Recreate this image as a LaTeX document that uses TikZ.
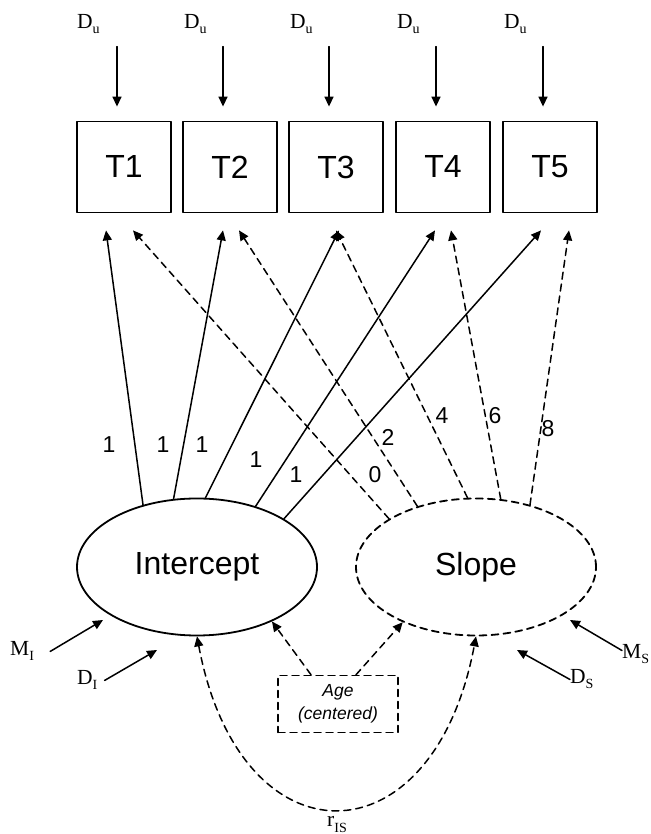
\documentclass[tikz,border=0pt]{standalone}
\usepackage{fontspec}
\setmainfont{Liberation Serif}
\setsansfont{Liberation Sans}
\usepackage{tikz}
\usetikzlibrary{arrows.meta}
\usetikzlibrary{shapes.geometric}

\newcommand{\sublab}[2]{#1\raisebox{-5pt}{\fontsize{14}{14}\selectfont #2}}

\begin{document}
\begin{tikzpicture}[line cap=round,line join=round,>={Triangle[length=10pt,width=9pt]},x=1pt,y=1pt]
\useasboundingbox (0,0) rectangle (650,834);
\tikzstyle{mydashed}=[dash pattern=on 7pt off 5pt]
\tikzstyle{arr}=[line width=1.5pt]
\tikzstyle{tbox}=[draw, line width=1.8pt, minimum width=94pt, minimum height=91pt, inner sep=0pt, font=\sffamily\fontsize{32}{38}\selectfont]
\tikzstyle{factor}=[ellipse, draw, line width=1.8pt, minimum width=240pt, minimum height=137pt, inner sep=0pt, font=\sffamily\fontsize{32}{38}\selectfont]
\tikzstyle{lab}=[inner sep=0pt, font=\fontsize{21.5}{24}\selectfont]
\tikzstyle{num}=[inner sep=0pt, font=\sffamily\fontsize{23}{25}\selectfont]
%time points
\node [tbox] (t1) at (124,667) {T1};
\node [tbox] (t2) at (230,667) {T2};
\node [tbox] (t3) at (336,667) {T3};
\node [tbox] (t4) at (443,667) {T4};
\node [tbox] (t5) at (550,667) {T5};
%residuals
\node [lab, anchor=base west] (du1) at (77,805) {\sublab{D}{u}};
\node [lab, anchor=base west] (du2) at (184,805) {\sublab{D}{u}};
\node [lab, anchor=base west] (du3) at (290,805) {\sublab{D}{u}};
\node [lab, anchor=base west] (du4) at (397,805) {\sublab{D}{u}};
\node [lab, anchor=base west] (du5) at (504,805) {\sublab{D}{u}};
\draw [->, arr] ([xshift=-7pt,yshift=74pt]t1.north) -- ([xshift=-7pt,yshift=14pt]t1.north);
\draw [->, arr] ([xshift=-7pt,yshift=74pt]t2.north) -- ([xshift=-7pt,yshift=14pt]t2.north);
\draw [->, arr] ([xshift=-7pt,yshift=74pt]t3.north) -- ([xshift=-7pt,yshift=14pt]t3.north);
\draw [->, arr] ([xshift=-7pt,yshift=74pt]t4.north) -- ([xshift=-7pt,yshift=14pt]t4.north);
\draw [->, arr] ([xshift=-7pt,yshift=74pt]t5.north) -- ([xshift=-7pt,yshift=14pt]t5.north);
%growth factors
\node [factor] (icpt) at (197,267) {Intercept};
\node [factor, mydashed] (slope) at (476,267) {Slope};
%intercept loadings
\draw [->, arr] (icpt.131) -- ([xshift=-18pt,yshift=-17pt]t1.south);
\draw [->, arr] (icpt.109) -- ([xshift=-7pt,yshift=-17pt]t2.south);
\draw [->, arr] (icpt.83) -- ([xshift=3pt,yshift=-17pt]t3.south);
\draw [->, arr] (icpt.46) -- ([xshift=-8pt,yshift=-17pt]t4.south);
\draw [->, arr] (icpt.29) -- ([xshift=-9pt,yshift=-17pt]t5.south);
%slope loadings
\draw [->, arr, mydashed] (slope.151) -- ([xshift=9pt,yshift=-17pt]t1.south);
\draw [->, arr, mydashed] (slope.134) -- ([xshift=9pt,yshift=-17pt]t2.south);
\draw [->, arr, mydashed] (slope.97) -- ([yshift=-17pt]t3.south);
\draw [->, arr, mydashed] (slope.70) -- ([xshift=8pt,yshift=-17pt]t4.south);
\draw [->, arr, mydashed] (slope.49) -- ([xshift=19pt,yshift=-17pt]t5.south);
\node [num] (w1) at (109,389) {1};
\node [num] (w2) at (163,389) {1};
\node [num] (w3) at (202,389) {1};
\node [num] (w4) at (256,374) {1};
\node [num] (w5) at (296,359) {1};
\node [num] (s1) at (375,359) {0};
\node [num] (s2) at (388,397) {2};
\node [num] (s3) at (442,418) {4};
\node [num] (s4) at (495,418) {6};
\node [num] (s5) at (548,405) {8};
%covariate
\node [draw, mydashed, line width=1.5pt, minimum width=120pt, minimum height=57pt, inner sep=0pt, align=center, font=\sffamily\itshape\fontsize{17.5}{23}\selectfont] (age) at (338,130) {Age\\(centered)};
\draw [->, arr, mydashed] ([xshift=-27pt]age.north) -- (icpt.-36);
\draw [->, arr, mydashed] ([xshift=18pt]age.north) -- (slope.-143);
%means and disturbances
\coordinate (mitip) at (103,214);
\coordinate (ditip) at (157,184);
\coordinate (mstip) at (570,214);
\coordinate (dstip) at (517,184);
\node [lab, anchor=base west] (mi) at (10,178) {\sublab{M}{I}};
\node [lab, anchor=base west] (di) at (77,149) {\sublab{D}{I}};
\node [lab, anchor=base west] (ms) at (622,175) {\sublab{M}{S}};
\node [lab, anchor=base west] (ds) at (570,150) {\sublab{D}{S}};
\draw [->, arr] ([xshift=16pt]mi.east) -- (mitip);
\draw [->, arr] ([xshift=7pt]di.east) -- (ditip);
\draw [->, arr] ([yshift=4pt]ms.west) -- (mstip);
\draw [->, arr] (ds.west) -- (dstip);
%covariance
\draw [<->, arr, mydashed] (icpt.south) .. controls +(43,-230) and +(-43,-229) .. (slope.south);
\node [lab, anchor=base] (ris) at (337,7) {\sublab{r}{IS}};
\end{tikzpicture}
\end{document}
